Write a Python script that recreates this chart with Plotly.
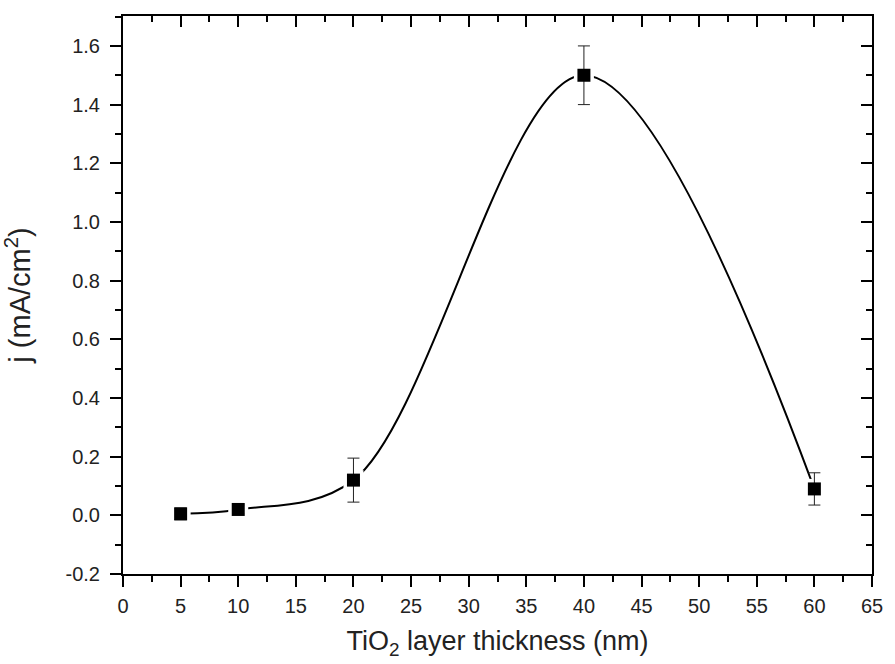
import plotly.graph_objects as go

# Photocurrent density vs. TiO2 layer thickness
thickness_nm = [5, 10, 20, 40, 60]
current_density = [0.005, 0.02, 0.12, 1.50, 0.09]
error_values = [0.02, 0.015, 0.075, 0.10, 0.055]

x_tick_vals = list(range(0, 70, 5))
y_tick_vals = [-0.2, 0.0, 0.2, 0.4, 0.6, 0.8, 1.0, 1.2, 1.4, 1.6]
y_tick_text = ["-0.2", "0.0", "0.2", "0.4", "0.6", "0.8", "1.0", "1.2", "1.4", "1.6"]

x_range = [0, 65]
y_range = [-0.2, 1.702]

FONT = "Liberation Sans, Arial, sans-serif"
TEXT_COLOR = "#222222"

fig = go.Figure()

# Smoothed connecting curve
fig.add_trace(go.Scatter(
    x=thickness_nm, y=current_density, mode="lines",
    line=dict(color="black", width=2, shape="spline", smoothing=1.0),
    hoverinfo="skip", showlegend=False,
))

# White halo around each marker so the curve stops short of it
fig.add_trace(go.Scatter(
    x=thickness_nm, y=current_density, mode="markers",
    marker=dict(symbol="square", size=20, color="white"),
    hoverinfo="skip", showlegend=False,
))

# Data points with error bars
fig.add_trace(go.Scatter(
    x=thickness_nm, y=current_density, mode="markers",
    marker=dict(symbol="square", size=13, color="black"),
    error_y=dict(type="data", array=error_values, visible=True,
                 color="#222222", thickness=1, width=6),
    showlegend=False,
))

# Invisible trace anchoring the mirrored top/right axes
fig.add_trace(go.Scatter(
    x=[None], y=[None], xaxis="x2", yaxis="y2",
    mode="markers", showlegend=False, hoverinfo="skip",
))

axis_common = dict(
    showgrid=False, zeroline=False,
    linecolor="black", linewidth=2,
    tickcolor="black", tickwidth=2,
)

tick_font = dict(family=FONT, size=20, color=TEXT_COLOR)

fig.update_layout(
    width=895, height=664,
    margin=dict(l=123, r=13, t=16, b=90),
    paper_bgcolor="white", plot_bgcolor="white",
    font=dict(family=FONT, color=TEXT_COLOR, size=20),
    xaxis=dict(
        **axis_common,
        range=x_range, tickmode="array", tickvals=x_tick_vals,
        ticks="outside", ticklen=11, showline=True, mirror=True,
        ticklabelstandoff=2,
        minor=dict(dtick=2.5, tick0=0, ticks="outside", ticklen=6,
                   tickcolor="black", tickwidth=2),
        tickfont=tick_font,
        title=dict(text="TiO<sub>2</sub> layer thickness (nm)",
                   font=dict(family=FONT, size=27, color=TEXT_COLOR),
                   standoff=15),
    ),
    yaxis=dict(
        **axis_common,
        range=y_range, tickmode="array", tickvals=y_tick_vals, ticktext=y_tick_text,
        ticks="outside", ticklen=11, showline=True, mirror=True,
        ticklabelstandoff=6,
        minor=dict(dtick=0.1, tick0=0, ticks="outside", ticklen=6,
                   tickcolor="black", tickwidth=2),
        tickfont=tick_font,
        title=dict(text="j (mA/cm<sup>2</sup>)",
                   font=dict(family=FONT, size=29, color=TEXT_COLOR),
                   standoff=28),
    ),
    xaxis2=dict(
        **axis_common,
        overlaying="x", side="top", anchor="y2",
        range=x_range, tickmode="array", tickvals=x_tick_vals,
        ticks="inside", ticklen=11, showticklabels=False, showline=False,
        minor=dict(dtick=2.5, tick0=0, ticks="inside", ticklen=6,
                   tickcolor="black", tickwidth=2),
    ),
    yaxis2=dict(
        **axis_common,
        overlaying="y", side="right", anchor="x2",
        range=y_range, tickmode="array", tickvals=y_tick_vals,
        ticks="inside", ticklen=11, showticklabels=False, showline=False,
        minor=dict(dtick=0.1, tick0=0, ticks="inside", ticklen=6,
                   tickcolor="black", tickwidth=2),
    ),
)

fig.write_html("out.html")
